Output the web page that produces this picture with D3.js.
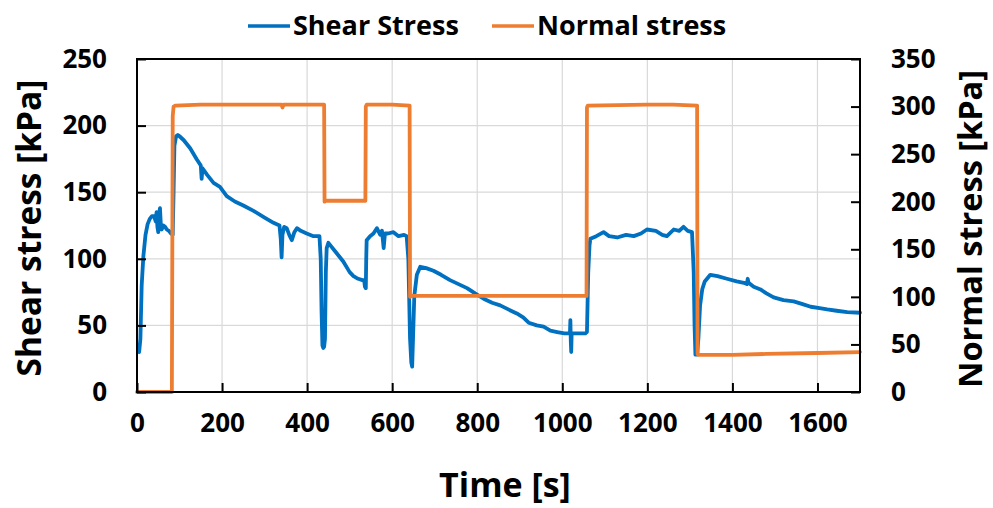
<!DOCTYPE html>
<html>
<head>
<meta charset="utf-8">
<script src="https://cdn.jsdelivr.net/npm/d3@7/dist/d3.min.js"></script>
<style>
  html, body { margin: 0; padding: 0; background: #fff; }
  text { font-family: "Open Sans", Lato, sans-serif; font-weight: 700; fill: #000; }
</style>
</head>
<body>
<svg id="chart" width="993" height="508"></svg>
<script>
// ---- Data ----
const shearTime = [5,8,11,15,20,25,30,35,40,44,46,48,50,52,54,56,58,62,66,70,75,80,84,86,88,92,96,100,110,125,140,150,152,154,165,180,195,211,230,250,274,300,321,335,338,340,342,346,352,358,364,370,376,385,399,415,429,432,434,436,438,440,442,444,446,450,470,485,500,509,520,530,534,536,538,539,540,548,556,564,572,576,580,583,590,603,615,628,634,638,642,645,647,649,652,658,666,680,697,715,736,756,776,795,815,835,854,873,893,908,921,940,956,972,988,1005,1018,1019,1020,1021,1022,1035,1054,1058,1061,1064,1066,1080,1097,1110,1129,1150,1168,1185,1199,1220,1235,1246,1262,1275,1285,1295,1305,1309,1311,1313,1317,1320,1324,1329,1335,1348,1365,1387,1410,1427,1434,1436,1438,1450,1466,1480,1497,1520,1544,1565,1584,1605,1623,1645,1670,1700];
const shearValues = [30,40,80,102,118,126,130,132,132,128,135,124,120,134,138,126,122,125,124,122,121,119,118,150,185,192,193,192,189,183,175,170,160,168,163,157,154,147,143,140,136,131,127,125,115,101,118,124,123,118,114,120,123,121,119,117,117,100,60,35,33,34,40,90,108,112,104,98,90,87,85,84,84,79,78,100,114,117,119,123,118,121,108,119,119,120,117,118,117,100,40,22,19,40,72,88,94,93,91,88,84,81,78,74,70,67,65,62,59,56,52,50,49,46,45,44,44,54,38,30,44,44,44,45,90,110,115,117,120,117,116,118,117,119,122,121,118,117,122,121,124,121,120,90,50,28,28,40,65,77,83,88,87,85,83,82,81,85,82,79,77,74,71,69,68,66,64,63,62,61,60,59.5];

const normalTime = [0,82,84,86,90,150,250,300,340,342,345,400,440,441,443,500,537,538,540,600,641,642,645,800,1000,1057,1058,1060,1200,1260,1317,1318,1320,1400,1480,1600,1700];
const normalValues = [0,0,290,300,301,302,302,302,302,299,302,302,302,200,201,201,201,300,302,302,301,100,101,101,101,101,299,301,302,302,301,40,39,39,40,41,42];

const xTicks = [0,200,400,600,800,1000,1200,1400,1600];
const yLeftTicks = [0,50,100,150,200,250];
const yRightTicks = [0,50,100,150,200,250,300,350];

const seriesNames = ["Shear Stress", "Normal stress"];
const axisTitles = { x: "Time [s]", yLeft: "Shear stress [kPa]", yRight: "Normal stress [kPa]" };

// ---- Layout ----
const svg = d3.select("#chart");
const L = 137, R = 860, T = 59, B = 392;
const blue = "#0070C0", orange = "#ED7D31";
const fmt = d3.format("d");

const x = d3.scaleLinear().domain([0, 1700]).range([L, R]);
const yL = d3.scaleLinear().domain([0, 250]).range([B, T]);
const yR = d3.scaleLinear().domain([0, 350]).range([B, T]);

// gridlines
const grid = svg.append("g");
grid.selectAll("line.h").data(yLeftTicks.filter(d => d > 0 && d < 250)).enter().append("line")
  .attr("x1", L).attr("x2", R).attr("y1", d => yL(d)).attr("y2", d => yL(d))
  .attr("stroke", "#d9d9d9").attr("stroke-width", 1.2);
grid.selectAll("line.v").data(xTicks.filter(d => d > 0)).enter().append("line")
  .attr("y1", T).attr("y2", B).attr("x1", d => x(d)).attr("x2", d => x(d))
  .attr("stroke", "#d9d9d9").attr("stroke-width", 1.2);

// series
const line = (ys) => d3.line().x(d => x(d[0])).y(d => ys(d[1]));
const shearData = shearTime.map((t, i) => [t, shearValues[i]]);
const normalData = normalTime.map((t, i) => [t, normalValues[i]]);

svg.append("path").datum(shearData).attr("d", line(yL))
  .attr("fill", "none").attr("stroke", blue).attr("stroke-width", 3.8)
  .attr("stroke-linejoin", "round").attr("stroke-linecap", "round");
svg.append("path").datum(normalData).attr("d", line(yR))
  .attr("fill", "none").attr("stroke", orange).attr("stroke-width", 3.8)
  .attr("stroke-linejoin", "round").attr("stroke-linecap", "round");

// axes (ticks inside)
const axL = svg.append("g").attr("transform", `translate(${L},0)`)
  .call(d3.axisLeft(yL).tickValues(yLeftTicks).tickFormat(fmt).tickSizeInner(-9).tickSizeOuter(0).tickPadding(30));
const axR = svg.append("g").attr("transform", `translate(${R},0)`)
  .call(d3.axisRight(yR).tickValues(yRightTicks).tickFormat(fmt).tickSizeInner(-9).tickSizeOuter(0).tickPadding(31));
const axB = svg.append("g").attr("transform", `translate(0,${B})`)
  .call(d3.axisBottom(x).tickValues(xTicks).tickFormat(fmt).tickSizeInner(-9).tickSizeOuter(0).tickPadding(22));
[axL, axR, axB].forEach(g => {
  g.selectAll(".domain").remove();
  g.selectAll(".tick line").attr("stroke", "#000").attr("stroke-width", 2);
  g.selectAll(".tick text").attr("font-size", 26).attr("font-family", "'Open Sans', sans-serif")
    .attr("font-weight", 700).attr("fill", "#000");
});
axB.selectAll(".tick text").attr("dy", "0.71em");

// frame
svg.append("rect").attr("x", L).attr("y", T).attr("width", R - L).attr("height", B - T)
  .attr("fill", "none").attr("stroke", "#000").attr("stroke-width", 2);

// axis titles
svg.append("text").attr("x", 505).attr("y", 497).attr("text-anchor", "middle")
  .attr("font-size", 34).text(axisTitles.x);
svg.append("text").attr("transform", "translate(41,228) rotate(-90)").attr("text-anchor", "middle")
  .attr("font-size", 33.5).text(axisTitles.yLeft);
svg.append("text").attr("transform", "translate(982,229) rotate(-90)").attr("text-anchor", "middle")
  .attr("font-size", 32.5).text(axisTitles.yRight);

// legend
const legend = svg.append("g");
const legItems = [
  { name: seriesNames[0], color: blue, x0: 248 },
  { name: seriesNames[1], color: orange, x0: 492 }
];
legItems.forEach(it => {
  legend.append("line").attr("x1", it.x0).attr("x2", it.x0 + 42).attr("y1", 26).attr("y2", 26)
    .attr("stroke", it.color).attr("stroke-width", 3.5);
  legend.append("text").attr("x", it.x0 + 45).attr("y", 35).attr("font-size", 27).text(it.name);
});
</script>
</body>
</html>
